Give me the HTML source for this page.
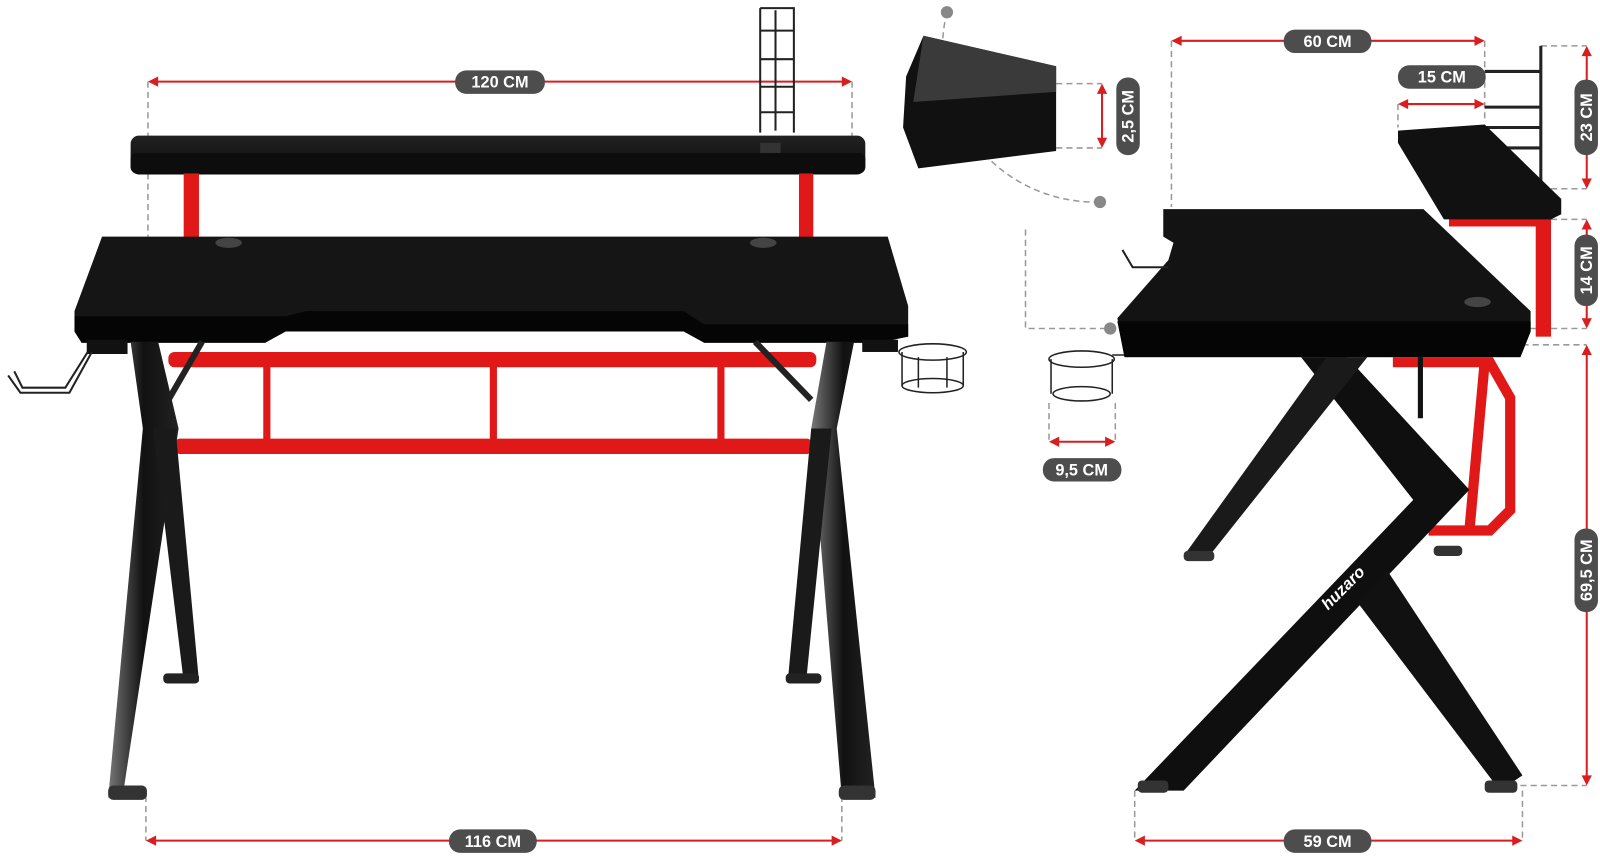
<!DOCTYPE html>
<html><head><meta charset="utf-8"><style>
html,body{margin:0;padding:0;background:#fff;}
svg{display:block}
text{font-family:"Liberation Sans",sans-serif;font-weight:bold;fill:#fff;font-size:16px}
</style></head><body>
<svg width="1600" height="859" viewBox="0 0 1568 842" preserveAspectRatio="none" xmlns="http://www.w3.org/2000/svg">
<defs>
<linearGradient id="top" x1="0" y1="0" x2="0" y2="1"><stop offset="0" stop-color="#222"/><stop offset="1" stop-color="#0a0a0a"/></linearGradient>
<linearGradient id="leg" x1="0" y1="0" x2="1" y2="0"><stop offset="0" stop-color="#777"/><stop offset=".5" stop-color="#111"/><stop offset="1" stop-color="#222"/></linearGradient>
</defs>
<g fill="none" stroke="#999" stroke-width="1.5" stroke-dasharray="6,4">
<path d="M145,80V232M835,80V135M143,780V824M825,780V824"/>
<path d="M1148,40V203M1455,40V120M1370,102V125M1510,45H1555M1510,185H1555M1520,215H1555M1500,322H1555M1492,338H1555M1490,770H1555M1112,775V824M1492,775V824"/>
<path d="M1035,82H1080M1035,145H1080M1028,395V433M1093,395V433M1005,225V322H1088"/>
<path d="M928,12 A150,150 0 0 0 1078,198"/>
</g>
<g fill="#888"><circle cx="928" cy="12" r="6"/><circle cx="1078" cy="198" r="6"/><circle cx="1088" cy="322" r="6"/></g>
<g stroke="#d81e1e" stroke-width="2">
<path d="M147,80H833M145,824H823M1150,40H1453M1372,102H1453M1080,84V143M1030,433H1091M1555,47V183M1555,217V320M1555,340V768M1114,824H1490"/>
</g>
<g fill="#d81e1e">
<path d="M145,80l10,-5v10zM835,80l-10,-5v10z"/>
<path d="M143,824l10,-5v10zM825,824l-10,-5v10z"/>
<path d="M1148,40l10,-5v10zM1455,40l-10,-5v10z"/>
<path d="M1370,102l10,-5v10zM1455,102l-10,-5v10z"/>
<path d="M1112,824l10,-5v10zM1492,824l-10,-5v10z"/>
<path d="M1028,433l10,-5v10zM1093,433l-10,-5v10z"/>
<path d="M1080,82l-5,10h10zM1080,145l-5,-10h10z"/>
<path d="M1555,45l-5,10h10zM1555,185l-5,-10h10z"/>
<path d="M1555,215l-5,10h10zM1555,322l-5,-10h10z"/>
<path d="M1555,338l-5,10h10zM1555,770l-5,-10h10z"/>
</g>
<!-- left view -->
<path d="M745,8H778V130M745,8V130M760,10V128M745,30H778M745,58H778M745,85H778M745,110H778" stroke="#222" stroke-width="2" fill="none"/>
<rect x="128" y="133" width="720" height="38" rx="8" fill="url(#top)"/>
<rect x="128" y="150" width="720" height="20" rx="6" fill="#0d0d0d"/>
<rect x="745" y="140" width="20" height="10" fill="#333"/>
<rect x="180" y="170" width="15" height="100" fill="#e01818"/>
<rect x="783" y="170" width="14" height="105" fill="#e01818"/>
<path d="M100,232H870L890,300V330L860,336H690L670,318H280L260,336H80L73,325V305Z" fill="#151515"/>
<path d="M73,310H280L300,305H670L690,318H890V330L860,336H690L670,325H280L260,336H80L73,325Z" fill="#050505"/>
<ellipse cx="224" cy="238" rx="13" ry="5" fill="#444"/><ellipse cx="748" cy="238" rx="13" ry="5" fill="#444"/>
<g fill="#e01818">
<rect x="165" y="345" width="635" height="15" rx="6"/><rect x="172" y="430" width="623" height="15" rx="4"/>
<rect x="258" y="355" width="7" height="80"/><rect x="480" y="355" width="7" height="80"/><rect x="703" y="355" width="7" height="80"/>
</g>
<path d="M198,335L165,392M740,335L795,392" stroke="#222" stroke-width="6"/>
<path d="M128,335H155L175,420L120,782H106L140,420Z" fill="url(#leg)"/>
<path d="M150,420H172L195,668H180Z" fill="#1a1a1a"/>
<path d="M810,335H837L820,420L858,782H825L795,420Z" fill="url(#leg)"/>
<path d="M795,420H815L790,668H772Z" fill="#1a1a1a"/>
<rect x="106" y="770" width="38" height="14" rx="5" fill="#333"/><rect x="822" y="770" width="36" height="14" rx="5" fill="#333"/>
<rect x="160" y="660" width="35" height="10" rx="4" fill="#222"/><rect x="770" y="660" width="35" height="10" rx="4" fill="#222"/>
<rect x="85" y="333" width="40" height="14" fill="#111"/><rect x="845" y="333" width="35" height="12" fill="#111"/>
<path d="M90,345L68,385H20L8,368M86,345L64,380H22L14,364" stroke="#222" stroke-width="2" fill="none"/>
<g stroke="#222" stroke-width="1.5" fill="none"><ellipse cx="914" cy="345" rx="33" ry="8"/><ellipse cx="914" cy="378" rx="30" ry="7"/><path d="M884,345V378M944,345V378M900,350V380M928,350V380"/></g>
<!-- detail -->
<path d="M905,35L1035,65V148L900,165L885,125L888,75Z" fill="#111"/>
<path d="M905,35L1035,65V90L895,100Z" fill="#3a3a3a"/>
<!-- cup side -->
<g stroke="#222" stroke-width="1.5" fill="none"><ellipse cx="1060" cy="352" rx="32" ry="8"/><ellipse cx="1060" cy="386" rx="28" ry="7"/><path d="M1030,352V386M1090,352V386M1090,348H1105"/></g>
<!-- right view -->
<path d="M1510,45V185M1455,70H1510M1455,105H1510M1455,125H1510M1455,145H1510" stroke="#222" stroke-width="3" fill="none"/>
<rect x="1420" y="212" width="100" height="10" fill="#e01818"/><rect x="1505" y="212" width="15" height="118" fill="#e01818"/>
<path d="M1370,128L1455,122L1530,195V210L1520,215H1415L1370,140Z" fill="#111"/>
<path d="M1140,205H1395L1500,305V325L1490,350H1102L1095,312L1145,255L1150,238L1140,232Z" fill="#131313"/>
<path d="M1095,315H1500V325L1490,350H1102Z" fill="#050505"/>
<ellipse cx="1448" cy="296" rx="13" ry="5" fill="#444"/>
<path d="M1100,245L1110,262H1145" stroke="#222" stroke-width="2" fill="none"/>
<g fill="none" stroke="#e01818" stroke-width="10"><path d="M1365,355H1460L1480,390V500L1460,520H1400"/><path d="M1455,355L1440,520"/></g>
<path d="M1392,350V410" stroke="#111" stroke-width="5"/>
<path d="M1275,350H1320L1440,480L1160,775H1112L1385,490Z" fill="#0f0f0f"/>
<path d="M1300,350H1340L1185,545H1160Z" fill="#1a1a1a"/>
<path d="M1330,590L1360,560L1492,760L1470,775Z" fill="#111"/>
<rect x="1115" y="765" width="30" height="12" rx="4" fill="#333"/><rect x="1455" y="765" width="32" height="12" rx="4" fill="#333"/>
<rect x="1160" y="540" width="30" height="10" rx="4" fill="#333"/><rect x="1405" y="535" width="28" height="10" rx="4" fill="#333"/>
<text x="1320" y="580" transform="rotate(-45 1320 580)" text-anchor="middle" font-size="22" font-style="italic">huzaro</text>
<!-- labels -->
<g fill="#4d4d4d">
<rect x="446" y="69" width="88" height="23" rx="11"/><rect x="440" y="813" width="86" height="23" rx="11"/>
<rect x="1258" y="29" width="86" height="23" rx="11"/><rect x="1258" y="813" width="86" height="23" rx="11"/>
<rect x="1370" y="64" width="86" height="23" rx="11"/><rect x="1022" y="449" width="77" height="23" rx="11"/>
<rect x="1094" y="76" width="23" height="76" rx="11"/><rect x="1543" y="78" width="23" height="74" rx="11"/>
<rect x="1543" y="230" width="23" height="70" rx="11"/><rect x="1543" y="518" width="23" height="82" rx="11"/>
</g>
<text x="490" y="86" text-anchor="middle">120 CM</text>
<text x="483" y="830" text-anchor="middle">116 CM</text>
<text x="1301" y="46" text-anchor="middle">60 CM</text>
<text x="1301" y="830" text-anchor="middle">59 CM</text>
<text x="1413" y="81" text-anchor="middle">15 CM</text>
<text x="1060" y="466" text-anchor="middle">9,5 CM</text>
<text transform="translate(1111,114) rotate(-90)" text-anchor="middle">2,5 CM</text>
<text transform="translate(1560,115) rotate(-90)" text-anchor="middle">23 CM</text>
<text transform="translate(1560,265) rotate(-90)" text-anchor="middle">14 CM</text>
<text transform="translate(1560,559) rotate(-90)" text-anchor="middle">69,5 CM</text>
</svg>
</body></html>
